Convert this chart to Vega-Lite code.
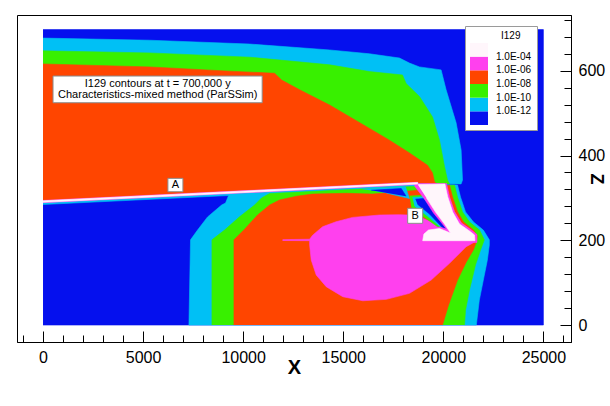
{
  "$schema": "https://vega.github.io/schema/vega-lite/v6.json",
  "width": 554,
  "height": 327,
  "autosize": "none",
  "padding": {"left": 17, "top": 15, "right": 39, "bottom": 64},
  "background": "white",
  "config": {
    "view": {"stroke": "black", "strokeWidth": 1},
    "font": "Liberation Sans",
    "axis": {"labelColor": "black", "tickColor": "black", "domainColor": "black", "titleColor": "black", "grid": false, "labelFont": "Liberation Sans", "titleFont": "Liberation Sans"}
  },
  "datasets": {
    "poly": [
      {"p":"p01","e":-13,"i":0,"x":0,"z":0},{"p":"p01","e":-13,"i":1,"x":25000,"z":0},{"p":"p01","e":-13,"i":2,"x":25000,"z":697},{"p":"p01","e":-13,"i":3,"x":0,"z":697},

      {"p":"p02","e":-11,"i":0,"x":0,"z":677},{"p":"p02","e":-11,"i":1,"x":5330,"z":672},{"p":"p02","e":-11,"i":2,"x":10320,"z":663},{"p":"p02","e":-11,"i":3,"x":14320,"z":649},{"p":"p02","e":-11,"i":4,"x":16310,"z":640},{"p":"p02","e":-11,"i":5,"x":17810,"z":630},{"p":"p02","e":-11,"i":6,"x":18310,"z":618},{"p":"p02","e":-11,"i":7,"x":18810,"z":609},{"p":"p02","e":-11,"i":8,"x":19890,"z":602},{"p":"p02","e":-11,"i":9,"x":20140,"z":555},{"p":"p02","e":-11,"i":10,"x":20640,"z":477},{"p":"p02","e":-11,"i":11,"x":20890,"z":413},{"p":"p02","e":-11,"i":12,"x":20960,"z":342},{"p":"p02","e":-11,"i":13,"x":20890,"z":333},{"p":"p02","e":-11,"i":14,"x":18710,"z":334.3},{"p":"p02","e":-11,"i":15,"x":0,"z":291.4},

      {"p":"p03","e":-9,"i":0,"x":0,"z":647},{"p":"p03","e":-9,"i":1,"x":5330,"z":642},{"p":"p03","e":-9,"i":2,"x":10320,"z":632},{"p":"p03","e":-9,"i":3,"x":14320,"z":614},{"p":"p03","e":-9,"i":4,"x":16310,"z":598},{"p":"p03","e":-9,"i":5,"x":17960,"z":590},{"p":"p03","e":-9,"i":6,"x":18140,"z":570},{"p":"p03","e":-9,"i":7,"x":18810,"z":539},{"p":"p03","e":-9,"i":8,"x":19460,"z":491},{"p":"p03","e":-9,"i":9,"x":19810,"z":436},{"p":"p03","e":-9,"i":10,"x":20060,"z":374},{"p":"p03","e":-9,"i":11,"x":20210,"z":342},{"p":"p03","e":-9,"i":12,"x":20310,"z":333},{"p":"p03","e":-9,"i":13,"x":18710,"z":334.3},{"p":"p03","e":-9,"i":14,"x":0,"z":291.4},

      {"p":"p04","e":-7,"i":0,"x":0,"z":616},{"p":"p04","e":-7,"i":1,"x":5330,"z":609},{"p":"p04","e":-7,"i":2,"x":9320,"z":599},{"p":"p04","e":-7,"i":3,"x":11570,"z":594},{"p":"p04","e":-7,"i":4,"x":11920,"z":578},{"p":"p04","e":-7,"i":5,"x":12820,"z":555},{"p":"p04","e":-7,"i":6,"x":14320,"z":519},{"p":"p04","e":-7,"i":7,"x":16310,"z":464},{"p":"p04","e":-7,"i":8,"x":17310,"z":436},{"p":"p04","e":-7,"i":9,"x":18310,"z":406},{"p":"p04","e":-7,"i":10,"x":19210,"z":377},{"p":"p04","e":-7,"i":11,"x":19460,"z":359},{"p":"p04","e":-7,"i":12,"x":19560,"z":338},{"p":"p04","e":-7,"i":13,"x":19660,"z":333},{"p":"p04","e":-7,"i":14,"x":18710,"z":334.3},{"p":"p04","e":-7,"i":15,"x":0,"z":291.4},

      {"p":"p05","e":-11,"i":0,"x":0,"z":291.4},{"p":"p05","e":-11,"i":1,"x":18460,"z":333.7},{"p":"p05","e":-11,"i":2,"x":20710,"z":330.3},{"p":"p05","e":-11,"i":3,"x":20860,"z":302},{"p":"p05","e":-11,"i":4,"x":21110,"z":267},{"p":"p05","e":-11,"i":5,"x":21510,"z":243},{"p":"p05","e":-11,"i":6,"x":22000,"z":224},{"p":"p05","e":-11,"i":7,"x":22300,"z":201},{"p":"p05","e":-11,"i":8,"x":22300,"z":189},{"p":"p05","e":-11,"i":9,"x":22200,"z":153},{"p":"p05","e":-11,"i":10,"x":22000,"z":106},{"p":"p05","e":-11,"i":11,"x":21800,"z":59},{"p":"p05","e":-11,"i":12,"x":21650,"z":0},{"p":"p05","e":-11,"i":13,"x":7290,"z":0},{"p":"p05","e":-11,"i":14,"x":7370,"z":201},{"p":"p05","e":-11,"i":15,"x":7720,"z":224},{"p":"p05","e":-11,"i":16,"x":8220,"z":255},{"p":"p05","e":-11,"i":17,"x":8920,"z":283},{"p":"p05","e":-11,"i":18,"x":9120,"z":288},{"p":"p05","e":-11,"i":19,"x":9270,"z":305.6},{"p":"p05","e":-11,"i":20,"x":0,"z":284.4},

      {"p":"p06","e":-9,"i":0,"x":8440,"z":0},{"p":"p06","e":-9,"i":1,"x":8440,"z":201},{"p":"p06","e":-9,"i":2,"x":9070,"z":224},{"p":"p06","e":-9,"i":3,"x":9820,"z":255.5},{"p":"p06","e":-9,"i":4,"x":10570,"z":283},{"p":"p06","e":-9,"i":5,"x":10920,"z":300},{"p":"p06","e":-9,"i":6,"x":11320,"z":310.3},{"p":"p06","e":-9,"i":7,"x":18460,"z":326.7},{"p":"p06","e":-9,"i":8,"x":20560,"z":330},{"p":"p06","e":-9,"i":9,"x":20710,"z":302},{"p":"p06","e":-9,"i":10,"x":20960,"z":267},{"p":"p06","e":-9,"i":11,"x":21310,"z":243},{"p":"p06","e":-9,"i":12,"x":21810,"z":224},{"p":"p06","e":-9,"i":13,"x":22050,"z":201},{"p":"p06","e":-9,"i":14,"x":21860,"z":177},{"p":"p06","e":-9,"i":15,"x":21610,"z":142},{"p":"p06","e":-9,"i":16,"x":21310,"z":83},{"p":"p06","e":-9,"i":17,"x":21110,"z":35},{"p":"p06","e":-9,"i":18,"x":21060,"z":0},

      {"p":"p07","e":-7,"i":0,"x":9540,"z":0},{"p":"p07","e":-7,"i":1,"x":9540,"z":201},{"p":"p07","e":-7,"i":2,"x":10080,"z":226.5},{"p":"p07","e":-7,"i":3,"x":10720,"z":259.6},{"p":"p07","e":-7,"i":4,"x":11320,"z":283},{"p":"p07","e":-7,"i":5,"x":11820,"z":295},{"p":"p07","e":-7,"i":6,"x":12670,"z":304},{"p":"p07","e":-7,"i":7,"x":13470,"z":309},{"p":"p07","e":-7,"i":8,"x":15160,"z":310.8},{"p":"p07","e":-7,"i":9,"x":16460,"z":309},{"p":"p07","e":-7,"i":10,"x":18460,"z":317},{"p":"p07","e":-7,"i":11,"x":20310,"z":330},{"p":"p07","e":-7,"i":12,"x":20460,"z":302},{"p":"p07","e":-7,"i":13,"x":20710,"z":267},{"p":"p07","e":-7,"i":14,"x":21010,"z":243},{"p":"p07","e":-7,"i":15,"x":21510,"z":224},{"p":"p07","e":-7,"i":16,"x":21700,"z":210},{"p":"p07","e":-7,"i":17,"x":21650,"z":196},{"p":"p07","e":-7,"i":18,"x":21500,"z":177},{"p":"p07","e":-7,"i":19,"x":21150,"z":149},{"p":"p07","e":-7,"i":20,"x":20710,"z":106},{"p":"p07","e":-7,"i":21,"x":20260,"z":47},{"p":"p07","e":-7,"i":22,"x":19960,"z":0},

      {"p":"p08","e":-11,"i":0,"x":15960,"z":321},{"p":"p08","e":-11,"i":1,"x":18110,"z":326},{"p":"p08","e":-11,"i":2,"x":18310,"z":298.5},{"p":"p08","e":-11,"i":3,"x":17150,"z":311.5},

      {"p":"p09","e":-13,"i":0,"x":16400,"z":318},{"p":"p09","e":-13,"i":1,"x":17900,"z":322},{"p":"p09","e":-13,"i":2,"x":18140,"z":304},

      {"p":"p10","e":-5,"i":0,"x":11970,"z":201.5},{"p":"p10","e":-5,"i":1,"x":13320,"z":202.5},{"p":"p10","e":-5,"i":2,"x":13470,"z":212},{"p":"p10","e":-5,"i":3,"x":13970,"z":232},{"p":"p10","e":-5,"i":4,"x":14640,"z":243.7},{"p":"p10","e":-5,"i":5,"x":15470,"z":254},{"p":"p10","e":-5,"i":6,"x":16810,"z":259.6},{"p":"p10","e":-5,"i":7,"x":17810,"z":260.3},{"p":"p10","e":-5,"i":8,"x":18230,"z":259.6},{"p":"p10","e":-5,"i":9,"x":18960,"z":252},{"p":"p10","e":-5,"i":10,"x":20060,"z":230},{"p":"p10","e":-5,"i":11,"x":21560,"z":210},{"p":"p10","e":-5,"i":12,"x":21590,"z":196.5},{"p":"p10","e":-5,"i":13,"x":21140,"z":184.8},{"p":"p10","e":-5,"i":14,"x":20310,"z":145.6},{"p":"p10","e":-5,"i":15,"x":19390,"z":106},{"p":"p10","e":-5,"i":16,"x":18310,"z":74.8},{"p":"p10","e":-5,"i":17,"x":17150,"z":60.6},{"p":"p10","e":-5,"i":18,"x":15980,"z":57.3},{"p":"p10","e":-5,"i":19,"x":14980,"z":66.8},{"p":"p10","e":-5,"i":20,"x":14150,"z":90.4},{"p":"p10","e":-5,"i":21,"x":13650,"z":118},{"p":"p10","e":-5,"i":22,"x":13400,"z":153.4},{"p":"p10","e":-5,"i":23,"x":13320,"z":188.8},{"p":"p10","e":-5,"i":24,"x":13320,"z":199},{"p":"p10","e":-5,"i":25,"x":11970,"z":199.5},

      {"p":"p11","e":-9,"i":0,"x":18310,"z":304.4},{"p":"p11","e":-9,"i":1,"x":19210,"z":306.7},{"p":"p11","e":-9,"i":2,"x":19910,"z":264},{"p":"p11","e":-9,"i":3,"x":20510,"z":205},{"p":"p11","e":-9,"i":4,"x":19110,"z":252.5},{"p":"p11","e":-9,"i":5,"x":18410,"z":276},

      {"p":"p12","e":-11,"i":0,"x":18460,"z":301},{"p":"p12","e":-11,"i":1,"x":19110,"z":303},{"p":"p12","e":-11,"i":2,"x":19810,"z":262},{"p":"p12","e":-11,"i":3,"x":20460,"z":207.6},{"p":"p12","e":-11,"i":4,"x":19210,"z":257},{"p":"p12","e":-11,"i":5,"x":18560,"z":281},

      {"p":"p13","e":-13,"i":0,"x":18610,"z":297},{"p":"p13","e":-13,"i":1,"x":19010,"z":298.5},{"p":"p13","e":-13,"i":2,"x":19710,"z":260},{"p":"p13","e":-13,"i":3,"x":20360,"z":210},{"p":"p13","e":-13,"i":4,"x":19310,"z":262},{"p":"p13","e":-13,"i":5,"x":18710,"z":285},

      {"p":"p14","e":-5,"i":0,"x":18560,"z":334},{"p":"p14","e":-5,"i":1,"x":20160,"z":334},{"p":"p14","e":-5,"i":2,"x":20310,"z":302.7},{"p":"p14","e":-5,"i":3,"x":20560,"z":267.8},{"p":"p14","e":-5,"i":4,"x":20910,"z":240.7},{"p":"p14","e":-5,"i":5,"x":21410,"z":224.2},{"p":"p14","e":-5,"i":6,"x":21680,"z":213.5},{"p":"p14","e":-5,"i":7,"x":21680,"z":194.7},{"p":"p14","e":-5,"i":8,"x":18880,"z":194.7},{"p":"p14","e":-5,"i":9,"x":18930,"z":217},{"p":"p14","e":-5,"i":10,"x":19210,"z":227.7},{"p":"p14","e":-5,"i":11,"x":19810,"z":231.2},{"p":"p14","e":-5,"i":12,"x":20160,"z":226.5},{"p":"p14","e":-5,"i":13,"x":19960,"z":238.3},{"p":"p14","e":-5,"i":14,"x":19510,"z":264.3},{"p":"p14","e":-5,"i":15,"x":19060,"z":297.3},{"p":"p14","e":-5,"i":16,"x":18560,"z":328},

      {"p":"p15","e":-3,"i":0,"x":18720,"z":331.5},{"p":"p15","e":-3,"i":1,"x":20080,"z":332.7},{"p":"p15","e":-3,"i":2,"x":20220,"z":302.7},{"p":"p15","e":-3,"i":3,"x":20470,"z":266.6},{"p":"p15","e":-3,"i":4,"x":20810,"z":238.3},{"p":"p15","e":-3,"i":5,"x":21310,"z":221.8},{"p":"p15","e":-3,"i":6,"x":21560,"z":212.4},{"p":"p15","e":-3,"i":7,"x":21580,"z":199},{"p":"p15","e":-3,"i":8,"x":18970,"z":199},{"p":"p15","e":-3,"i":9,"x":19030,"z":214.7},{"p":"p15","e":-3,"i":10,"x":19260,"z":224.2},{"p":"p15","e":-3,"i":11,"x":19810,"z":227.7},{"p":"p15","e":-3,"i":12,"x":20360,"z":217},{"p":"p15","e":-3,"i":13,"x":20060,"z":238.3},{"p":"p15","e":-3,"i":14,"x":19610,"z":266.6},{"p":"p15","e":-3,"i":15,"x":19160,"z":299.7},

      {"p":"p16","e":-5,"i":0,"x":0,"z":288.8},{"p":"p16","e":-5,"i":1,"x":18720,"z":331.7},{"p":"p16","e":-5,"i":2,"x":18720,"z":336.9},{"p":"p16","e":-5,"i":3,"x":0,"z":294},

      {"p":"p17","e":-3,"i":0,"x":0,"z":289.6},{"p":"p17","e":-3,"i":1,"x":18720,"z":332.5},{"p":"p17","e":-3,"i":2,"x":18720,"z":336.1},{"p":"p17","e":-3,"i":3,"x":0,"z":293.2}
    ],
    "boxes": [
      {"k":"note","x":500,"x2":10950,"z":524.5,"z2":587.5},
      {"k":"A","x":6240,"x2":6990,"z":314.5,"z2":346.1},
      {"k":"B","x":18220,"x2":18970,"z":240,"z2":275.4}
    ],
    "labels": [
      {"t":"I129 contours at t = 700,000 y","x":5730,"z":568.2},
      {"t":"Characteristics-mixed method (ParSSim)","x":5730,"z":542},
      {"t":"A","x":6615,"z":330.3},
      {"t":"B","x":18595,"z":257.7}
    ]
  },
  "layer": [
    {
      "data": {"name": "poly"},
      "mark": {"type": "line", "strokeWidth": 0.6, "strokeJoin": "round"},
      "encoding": {
        "x": {"field": "x", "type": "quantitative", "scale": {"domain": [-1300, 26380], "nice": false, "zero": false},
              "axis": {"orient": "bottom", "values": [0, 5000, 10000, 15000, 20000, 25000], "format": "d", "title": "X", "titleFontSize": 20, "titleFontWeight": "bold", "titlePadding": -8, "labelFontSize": 16, "labelPadding": 18, "tickSize": -11, "labelFlush": false, "labelOverlap": false}},
        "y": {"field": "z", "type": "quantitative", "scale": {"domain": [-40, 731.5], "nice": false, "zero": false},
              "axis": {"orient": "right", "values": [0, 200, 400, 600], "format": "d", "title": "Z", "titleFontSize": 18, "titleFontWeight": "bold", "titlePadding": -18, "labelFontSize": 16, "labelPadding": 18, "tickSize": -11, "labelFlush": false, "labelOverlap": false}},
        "detail": {"field": "p", "type": "nominal"},
        "order": {"field": "i", "type": "quantitative"},
        "fill": {"field": "e", "type": "quantitative",
                 "scale": {"type": "threshold", "domain": [-12, -10, -8, -6, -4], "range": ["#0510ee", "#00c0f5", "#38f000", "#ff4500", "#ff40ee", "#fff6fb"]},
                 "legend": {"type": "gradient", "direction": "vertical", "orient": "none", "legendX": 448, "legendY": 11, "title": "I129", "titleFontSize": 10, "titleFontWeight": "normal", "titleColor": "black", "titleAnchor": "middle", "titleAlign": "left", "titlePadding": 2, "gradientLength": 82, "gradientThickness": 18, "gradientStrokeWidth": 0, "labelFontSize": 10, "labelColor": "black", "labelOverlap": false, "labelOffset": 8, "labelExpr": "isFinite(datum.value) ? '1.0E-' + (datum.value > -10 ? '0' : '') + (-datum.value) : ''", "fillColor": "white", "strokeColor": "#9a9a9a", "padding": 5}},
        "stroke": {"field": "e", "type": "quantitative",
                 "scale": {"type": "threshold", "domain": [-12, -10, -8, -6, -4], "range": ["#0510ee", "#00c0f5", "#38f000", "#ff4500", "#ff40ee", "#fff6fb"]},
                 "legend": null}
      }
    },
    {
      "data": {"name": "boxes"},
      "mark": {"type": "point", "opacity": 0},
      "encoding": {
        "x": {"field": "x", "type": "quantitative", "scale": {"domain": [-1300, 26380], "nice": false, "zero": false},
              "axis": {"orient": "bottom", "values": [-1000, 1000, 2000, 3000, 4000, 6000, 7000, 8000, 9000, 11000, 12000, 13000, 14000, 16000, 17000, 18000, 19000, 21000, 22000, 23000, 24000, 26000], "labels": false, "title": null, "domain": false, "tickSize": -7}},
        "y": {"field": "z", "type": "quantitative", "scale": {"domain": [-40, 731.5], "nice": false, "zero": false},
              "axis": {"orient": "right", "values": [40, 80, 120, 160, 240, 280, 320, 360, 440, 480, 520, 560, 640, 680, 720], "labels": false, "title": null, "domain": false, "tickSize": -7}}
      }
    },
    {
      "data": {"name": "boxes"},
      "mark": {"type": "rect", "fill": "white", "stroke": "#8c8c8c", "strokeWidth": 1},
      "encoding": {
        "x": {"field": "x", "type": "quantitative", "axis": null},
        "x2": {"field": "x2"},
        "y": {"field": "z", "type": "quantitative", "axis": null},
        "y2": {"field": "z2"}
      }
    },
    {
      "data": {"name": "labels"},
      "mark": {"type": "text", "fontSize": 11, "align": "center", "baseline": "middle", "color": "black", "font": "Liberation Sans"},
      "encoding": {
        "x": {"field": "x", "type": "quantitative", "axis": null},
        "y": {"field": "z", "type": "quantitative", "axis": null},
        "text": {"field": "t"}
      }
    }
  ],
  "resolve": {"axis": {"x": "independent", "y": "independent"}}
}
